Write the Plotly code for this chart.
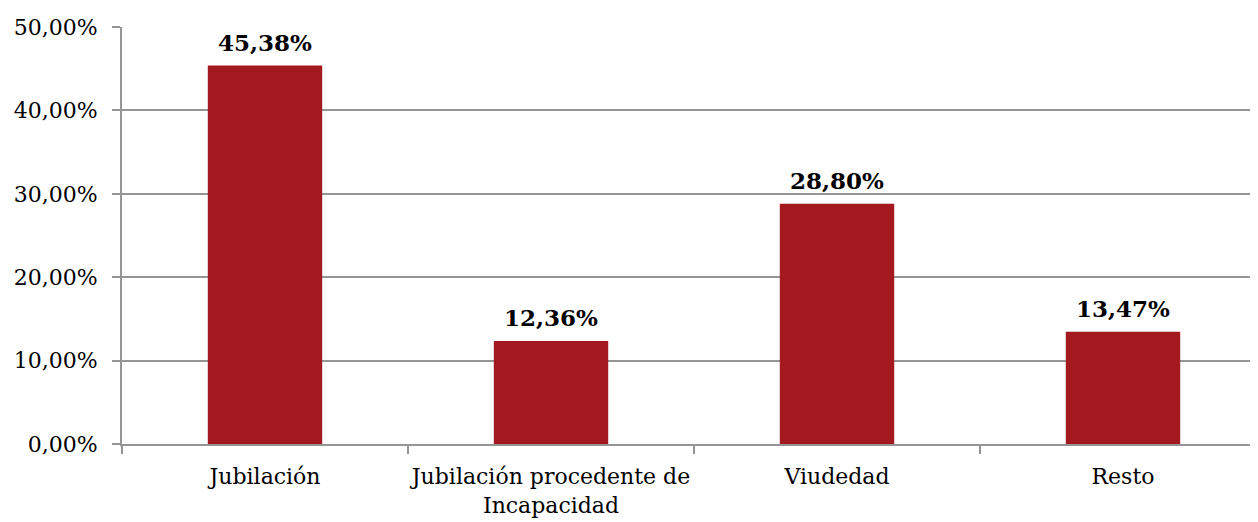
import plotly.graph_objects as go

categories = ["Jubilación", "Jubilación procedente de<br>Incapacidad", "Viudedad", "Resto"]
values = [0.4538, 0.1236, 0.2880, 0.1347]
labels = ["45,38%", "12,36%", "28,80%", "13,47%"]
tick_vals = [0, 0.1, 0.2, 0.3, 0.4, 0.5]
tick_text = ["0,00%", "10,00%", "20,00%", "30,00%", "40,00%", "50,00%"]

FONT = "DejaVu Serif"
BAR = "#A3191F"
GRID = "#959595"

fig = go.Figure()
fig.add_trace(go.Bar(x=categories, y=values, marker=dict(color=BAR, line=dict(width=0)),
                     width=0.4, hoverinfo="skip"))

for c, v, t in zip(categories, values, labels):
    fig.add_annotation(x=c, y=v, text="<b>" + t + "</b>", showarrow=False, yanchor="bottom",
                       yshift=8, font=dict(family=FONT, size=23, color="#000000"))

# page body has an 8px default margin; compensate so the chart fills the 1258x522 window
fig.update_layout(
    width=1250, height=514,
    margin=dict(l=114, r=0, t=19, b=78),
    paper_bgcolor="white", plot_bgcolor="white",
    showlegend=False,
    font=dict(family=FONT, size=22, color="#000000"),
    xaxis=dict(type="category", range=[-0.5, 3.472], ticks="outside", tickson="boundaries", ticklen=8,
               tickcolor=GRID, tickwidth=2, showgrid=False, showline=True, linecolor=GRID,
               linewidth=2, zeroline=False, automargin=False, ticklabelstandoff=12, tickangle=0,
               tickfont=dict(family=FONT, size=22)),
    yaxis=dict(range=[0, 0.5], tickmode="array", tickvals=tick_vals, ticktext=tick_text,
               ticks="outside", ticklen=8, tickcolor=GRID, tickwidth=2, showgrid=True,
               gridcolor=GRID, gridwidth=2, showline=True, linecolor=GRID, linewidth=2,
               zeroline=False, automargin=False, ticklabelstandoff=10,
               tickfont=dict(family=FONT, size=22)),
)

fig.write_html("out.html")
